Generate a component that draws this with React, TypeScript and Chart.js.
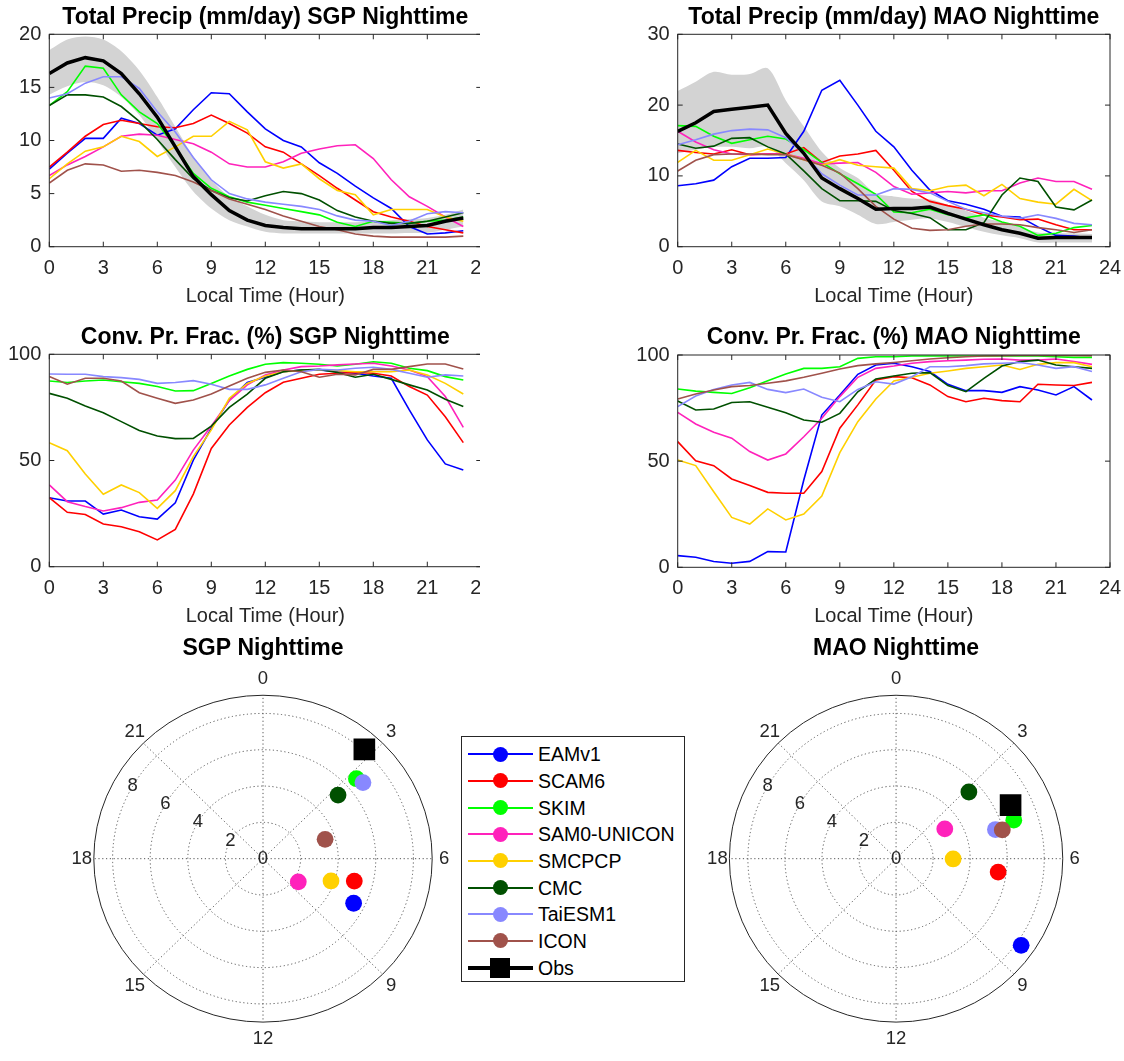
import React, { useEffect, useRef } from 'react';
import { Chart, registerables } from 'chart.js';

Chart.register(...registerables);

const FONT = '"Liberation Sans", Arial, Helvetica, sans-serif';

// ---------- categories / ticks ----------
const HOURS = [0, 1, 2, 3, 4, 5, 6, 7, 8, 9, 10, 11, 12, 13, 14, 15, 16, 17, 18, 19, 20, 21, 22, 23];
const X_TICKS = [0, 3, 6, 9, 12, 15, 18, 21, 24];
const MODEL_NAMES = ['EAMv1', 'SCAM6', 'SKIM', 'SAM0-UNICON', 'SMCPCP', 'CMC', 'TaiESM1', 'ICON'];
const MODEL_COLORS = ['#0000FF', '#FF0000', '#00FF00', '#FF22BB', '#FFD000', '#005000', '#8888FF', '#A0524B'];
const OBS_COLOR = '#000000';
const BAND_COLOR = '#d3d3d3';

// ---------- Total precip SGP (mm/day) ----------
const SGP_PR_EAMV1 = [7.3, 8.8, 10.2, 10.2, 12.1, 11.6, 10.5, 11.1, 12.9, 14.5, 14.4, 12.7, 11.1, 10.0, 9.4, 7.9, 6.9, 5.7, 4.6, 3.6, 1.9, 1.2, 1.3, 1.5];
const SGP_PR_SCAM6 = [7.5, 8.9, 10.4, 11.5, 11.9, 11.6, 11.3, 11.2, 11.6, 12.4, 11.6, 10.7, 9.4, 8.9, 7.8, 6.7, 5.5, 4.4, 3.3, 2.8, 2.4, 1.9, 1.6, 1.3];
const SGP_PR_SKIM = [13.3, 14.6, 17.0, 16.8, 14.3, 12.7, 11.6, 9.4, 6.9, 5.5, 4.7, 4.2, 3.9, 3.6, 3.3, 3.0, 2.3, 1.9, 2.4, 2.3, 2.2, 2.4, 2.5, 2.8];
const SGP_PR_SAM0 = [6.7, 7.7, 8.5, 9.4, 10.4, 10.6, 10.5, 10.1, 9.7, 8.9, 7.8, 7.5, 7.5, 8.0, 8.8, 9.2, 9.5, 9.6, 8.3, 6.3, 4.7, 3.8, 2.8, 1.9];
const SGP_PR_SMCPCP = [6.4, 7.8, 9.0, 9.4, 10.4, 9.9, 8.5, 9.4, 10.4, 10.4, 11.8, 11.0, 8.0, 7.4, 7.8, 6.4, 5.3, 4.9, 3.0, 3.5, 3.5, 3.5, 2.8, 2.4];
const SGP_PR_CMC = [13.3, 14.3, 14.3, 14.1, 13.2, 11.8, 10.1, 8.2, 6.4, 5.3, 4.6, 4.3, 4.8, 5.2, 5.0, 4.4, 3.4, 2.8, 2.4, 2.2, 2.2, 2.4, 2.8, 3.2];
const SGP_PR_TAI = [14.0, 14.4, 15.4, 16.0, 16.0, 14.9, 12.7, 10.8, 8.4, 6.3, 5.0, 4.5, 4.2, 4.0, 3.8, 3.5, 2.9, 2.5, 2.4, 2.0, 2.4, 3.1, 3.3, 3.2];
const SGP_PR_ICON = [6.0, 7.2, 7.8, 7.7, 7.1, 7.2, 7.0, 6.7, 6.1, 5.3, 4.5, 4.0, 3.5, 2.9, 2.4, 1.9, 1.6, 1.2, 1.0, 0.9, 0.9, 0.9, 0.9, 1.0];
const SGP_PR_OBS = [16.3, 17.3, 17.8, 17.5, 16.3, 14.4, 12.2, 9.4, 6.6, 4.9, 3.4, 2.5, 2.0, 1.8, 1.7, 1.7, 1.7, 1.7, 1.8, 1.8, 1.9, 2.0, 2.4, 2.7];
const SGP_PR_OBS_HI = [18.5, 19.5, 19.8, 19.5, 18.4, 16.6, 14.1, 11.3, 8.5, 6.3, 4.7, 3.8, 3.0, 2.5, 2.4, 2.3, 2.3, 2.3, 2.4, 2.5, 2.6, 2.7, 3.0, 3.5];
const SGP_PR_OBS_LO = [14.3, 15.1, 15.5, 15.2, 14.1, 12.4, 10.0, 7.5, 5.2, 3.6, 2.5, 1.9, 1.4, 1.25, 1.25, 1.25, 1.25, 1.25, 1.25, 1.25, 1.3, 1.3, 1.6, 1.9];

// ---------- Total precip MAO (mm/day) ----------
const MAO_PR_EAMV1 = [8.6, 8.9, 9.4, 11.3, 12.5, 12.5, 12.6, 16.3, 22.1, 23.5, 20.0, 16.3, 14.1, 10.8, 8.0, 6.5, 6.0, 5.3, 4.3, 4.2, 2.8, 1.6, 1.5, 1.2];
const MAO_PR_SCAM6 = [13.6, 13.3, 13.1, 13.7, 13.0, 13.1, 13.1, 14.0, 11.9, 12.8, 13.1, 13.6, 10.8, 7.8, 6.4, 5.8, 5.3, 4.5, 4.2, 3.8, 3.9, 3.1, 2.4, 2.4];
const MAO_PR_SKIM = [17.1, 17.0, 15.6, 14.6, 15.1, 15.6, 15.2, 13.7, 11.9, 10.3, 8.9, 7.4, 4.9, 4.8, 5.3, 4.5, 4.1, 4.5, 3.5, 2.9, 1.6, 1.9, 2.7, 3.0];
const MAO_PR_SAM0 = [16.3, 14.8, 13.7, 13.1, 13.0, 13.1, 13.1, 12.5, 11.7, 11.8, 11.9, 10.5, 8.5, 7.4, 7.6, 7.8, 7.6, 7.9, 7.9, 9.0, 9.7, 9.2, 9.2, 8.1];
const MAO_PR_SMCPCP = [11.9, 13.6, 12.2, 12.2, 13.0, 13.8, 13.1, 12.3, 11.5, 12.3, 11.5, 11.3, 11.1, 8.2, 7.9, 8.5, 8.7, 7.2, 8.8, 6.8, 6.3, 6.0, 8.1, 6.5];
const MAO_PR_CMC = [14.5, 13.9, 14.2, 15.3, 15.4, 14.1, 13.1, 10.7, 8.2, 6.5, 6.5, 6.4, 5.1, 4.7, 4.1, 2.4, 2.4, 3.4, 7.3, 9.7, 9.2, 5.6, 5.2, 6.6];
const MAO_PR_TAI = [14.4, 15.1, 15.9, 16.4, 16.6, 16.5, 15.4, 13.1, 10.3, 8.7, 7.3, 7.3, 8.2, 8.1, 7.6, 6.4, 5.3, 4.8, 4.3, 4.0, 4.5, 4.0, 3.3, 3.1];
const MAO_PR_ICON = [10.7, 12.2, 13.0, 13.1, 13.1, 13.0, 13.0, 12.3, 11.5, 10.4, 8.2, 5.7, 3.9, 2.6, 2.3, 2.4, 2.9, 3.2, 3.2, 3.1, 2.7, 2.4, 2.0, 2.4];
const MAO_PR_OBS = [16.3, 17.5, 19.1, 19.4, 19.7, 20.0, 16.0, 13.2, 9.7, 8.2, 6.8, 5.3, 5.4, 5.4, 5.6, 4.7, 3.9, 3.1, 2.4, 1.9, 1.2, 1.3, 1.3, 1.3];
const MAO_PR_OBS_HI = [22.0, 23.3, 24.7, 24.3, 24.4, 25.2, 20.7, 17.0, 13.4, 11.1, 9.7, 7.5, 7.1, 6.8, 6.7, 5.9, 5.1, 4.1, 3.5, 2.8, 2.0, 1.9, 1.9, 1.8];
const MAO_PR_OBS_LO = [13.2, 13.7, 14.1, 14.1, 13.9, 14.1, 11.8, 9.4, 6.4, 5.7, 4.5, 3.2, 3.5, 3.8, 4.0, 3.5, 2.8, 2.1, 1.6, 1.2, 0.6, 0.6, 0.6, 0.6];

// ---------- Convective precip fraction SGP (%) ----------
const SGP_CF_EAMV1 = [32.5, 30.9, 30.9, 24.8, 26.7, 23.5, 22.4, 30.1, 50.2, 65.1, 78.5, 86.7, 89.2, 91.8, 92.6, 92.6, 91.8, 91.1, 89.8, 88.7, 73.8, 59.7, 48.4, 45.5];
const SGP_CF_SCAM6 = [32.5, 25.6, 24.6, 20.1, 18.8, 16.5, 12.6, 17.6, 34.2, 55.7, 66.7, 75.0, 81.9, 86.8, 88.7, 90.6, 91.1, 91.4, 91.1, 89.8, 84.8, 80.8, 70.6, 58.4];
const SGP_CF_SKIM = [87.4, 86.7, 87.4, 87.9, 87.1, 86.3, 84.8, 82.7, 82.9, 86.3, 89.8, 92.9, 95.3, 96.1, 95.8, 95.3, 94.5, 95.3, 96.5, 95.8, 93.4, 92.3, 89.5, 87.9];
const SGP_CF_SAM0 = [38.5, 30.6, 28.3, 26.2, 27.8, 30.3, 31.4, 40.8, 54.9, 66.2, 78.2, 85.6, 90.3, 92.6, 94.2, 94.5, 95.0, 95.4, 95.8, 94.5, 92.6, 89.5, 80.1, 65.6];
const SGP_CF_SMCPCP = [58.4, 54.6, 43.6, 34.1, 38.5, 34.9, 27.5, 35.8, 51.8, 64.4, 79.3, 86.3, 89.8, 91.8, 92.3, 92.6, 92.3, 91.8, 91.8, 91.8, 92.6, 90.3, 86.3, 81.3];
const SGP_CF_CMC = [81.6, 79.3, 75.7, 72.5, 68.3, 64.1, 61.5, 60.3, 60.4, 66.2, 75.0, 81.3, 88.7, 91.8, 92.6, 92.9, 91.4, 89.2, 90.6, 88.2, 85.6, 83.2, 78.8, 75.4];
const SGP_CF_TAI = [90.7, 90.6, 90.6, 89.5, 89.0, 88.2, 86.3, 86.7, 87.6, 85.9, 83.5, 83.5, 85.6, 88.7, 91.8, 92.9, 92.6, 93.4, 93.9, 92.9, 91.1, 89.2, 90.3, 89.8];
const SGP_CF_ICON = [89.5, 85.9, 88.7, 88.7, 87.4, 81.9, 79.3, 76.9, 78.5, 81.3, 85.1, 88.7, 91.5, 92.6, 91.8, 89.2, 90.6, 90.3, 92.9, 92.9, 94.2, 95.4, 95.4, 93.1];

// ---------- Convective precip fraction MAO (%) ----------
const MAO_CF_EAMV1 = [5.5, 4.7, 2.7, 1.9, 2.8, 7.4, 7.2, 41.1, 71.7, 81.2, 90.9, 95.3, 96.1, 94.5, 92.2, 86.2, 83.2, 83.2, 82.4, 85.1, 83.5, 81.2, 85.1, 78.8];
const MAO_CF_SCAM6 = [59.2, 50.2, 47.9, 41.6, 38.5, 35.3, 34.9, 34.9, 45.1, 65.5, 76.5, 88.2, 89.8, 89.3, 85.9, 80.4, 78.0, 79.6, 78.5, 78.0, 86.2, 85.9, 85.6, 87.1];
const MAO_CF_SKIM = [84.0, 83.0, 82.4, 81.9, 84.6, 87.9, 91.1, 93.7, 93.7, 94.5, 98.4, 99.2, 99.2, 99.5, 99.5, 99.5, 99.5, 99.5, 99.5, 99.5, 99.5, 99.2, 98.9, 98.9];
const MAO_CF_SAM0 = [73.0, 67.5, 63.6, 60.8, 54.5, 50.5, 53.4, 61.5, 70.2, 80.4, 89.5, 93.7, 94.8, 96.1, 96.9, 97.3, 97.6, 98.0, 98.1, 97.6, 97.6, 98.1, 96.9, 95.6];
const MAO_CF_SMCPCP = [50.5, 47.9, 35.6, 23.5, 20.4, 27.5, 22.3, 25.1, 33.6, 54.0, 68.6, 79.3, 87.8, 89.5, 91.4, 92.5, 93.7, 94.5, 95.3, 93.2, 95.6, 96.4, 96.4, 94.5];
const MAO_CF_CMC = [78.3, 74.1, 74.6, 77.6, 78.0, 75.4, 72.8, 69.4, 68.3, 72.5, 82.7, 88.7, 90.1, 91.4, 91.7, 85.6, 82.7, 89.0, 94.8, 96.9, 97.6, 95.3, 94.5, 93.7];
const MAO_CF_TAI = [75.7, 80.7, 83.8, 85.9, 87.1, 83.8, 82.3, 84.0, 80.1, 78.0, 83.8, 87.4, 86.3, 89.8, 94.5, 94.5, 95.0, 95.8, 96.1, 96.5, 95.3, 93.7, 94.5, 92.2];
const MAO_CF_ICON = [79.3, 81.6, 83.5, 85.1, 85.6, 86.7, 87.8, 89.5, 91.4, 93.4, 95.0, 95.8, 96.5, 97.3, 98.1, 98.7, 99.2, 99.5, 99.7, 99.8, 99.8, 99.8, 99.8, 99.7];

// ---------- Diurnal harmonic (phase in local hour, amplitude in mm/day) ----------
const SGP_PHASE = [7.80, 6.95, 3.23, 8.28, 7.25, 3.25, 3.45, 4.81];
const SGP_AMP = [5.41, 5.01, 6.64, 2.27, 3.82, 5.31, 6.77, 3.47];
const SGP_OBS_PHASE = 2.79;
const SGP_OBS_AMP = 8.08;
const MAO_PHASE = [8.35, 6.51, 4.77, 3.87, 6.02, 3.13, 4.89, 4.97];
const MAO_AMP = [8.27, 5.56, 6.70, 3.10, 3.08, 5.38, 5.60, 5.95];
const MAO_OBS_PHASE = 4.30;
const MAO_OBS_AMP = 6.85;

const POLAR_RINGS = [2, 4, 6, 8];
const POLAR_RMAX = 9;
const POLAR_ANGLE_TICKS = [0, 3, 6, 9, 12, 15, 18, 21];
const POLAR_SPOKES = [0, 3, 6, 9, 12, 15, 18, 21];
const POLAR_R_LABEL_HOUR = 20;

type Area = { l: number; t: number; r: number; b: number };

type LinePanelProps = {
  left: number; top: number; wrapW: number; height: number; canvasW: number;
  area: Area; yMax: number; yStep: number; title: string; xLabel: string;
  series: number[][]; obs?: number[]; hi?: number[]; lo?: number[];
};

const Y_AXIS_W = 45;
const X_AXIS_H = 60;

function toXY(vals: number[]) {
  return HOURS.map((h, i) => ({ x: h, y: vals[i] }));
}

function LinePanel(p: LinePanelProps) {
  const ref = useRef<HTMLCanvasElement | null>(null);
  useEffect(() => {
    if (!ref.current) return;
    const datasets: any[] = [];
    if (p.obs) {
      datasets.push({
        label: 'Obs', data: toXY(p.obs), borderColor: OBS_COLOR, borderWidth: 3.5,
        pointRadius: 0, fill: false, order: 0, tension: 0,
      });
    }
    p.series.forEach((s, k) => {
      datasets.push({
        label: MODEL_NAMES[k], data: toXY(s), borderColor: MODEL_COLORS[k], borderWidth: 1.6,
        pointRadius: 0, fill: false, order: MODEL_NAMES.length - k, tension: 0,
      });
    });
    if (p.hi && p.lo) {
      datasets.push({
        label: 'obs-hi', data: toXY(p.hi), borderWidth: 0, borderColor: 'rgba(0,0,0,0)',
        backgroundColor: BAND_COLOR, pointRadius: 0, fill: '+1', order: 20, tension: 0.3,
      });
      datasets.push({
        label: 'obs-lo', data: toXY(p.lo), borderWidth: 0, borderColor: 'rgba(0,0,0,0)',
        pointRadius: 0, fill: false, order: 21, tension: 0.3,
      });
    }
    const deco = {
      id: 'deco',
      afterDraw(chart: any) {
        const { ctx, chartArea: a, scales } = chart;
        const xs = scales.x, ys = scales.y;
        ctx.save();
        ctx.strokeStyle = '#262626';
        ctx.lineWidth = 1;
        ctx.strokeRect(a.left, a.top, a.right - a.left, a.bottom - a.top);
        const tl = 5;
        ctx.beginPath();
        X_TICKS.forEach((v) => {
          const px = xs.getPixelForValue(v);
          ctx.moveTo(px, a.bottom); ctx.lineTo(px, a.bottom - tl);
          ctx.moveTo(px, a.top); ctx.lineTo(px, a.top + tl);
        });
        ys.ticks.forEach((t: any) => {
          const py = ys.getPixelForValue(t.value);
          ctx.moveTo(a.left, py); ctx.lineTo(a.left + tl, py);
          ctx.moveTo(a.right, py); ctx.lineTo(a.right - tl, py);
        });
        ctx.stroke();
        const cx = (a.left + a.right) / 2;
        ctx.fillStyle = '#000';
        ctx.textAlign = 'center';
        ctx.textBaseline = 'middle';
        ctx.font = `bold 23px ${FONT}`;
        ctx.fillText(p.title, cx, a.top - 17);
        ctx.fillStyle = '#262626';
        ctx.font = `20px ${FONT}`;
        ctx.fillText(p.xLabel, cx, a.bottom + 49.5);
        ctx.restore();
      },
    };
    const chart = new Chart(ref.current, {
      type: 'line',
      data: { datasets },
      options: {
        animation: false, responsive: false, events: [],
        layout: {
          padding: {
            left: p.area.l - Y_AXIS_W, top: p.area.t,
            right: p.canvasW - p.area.r, bottom: p.height - p.area.b - X_AXIS_H,
          },
        },
        plugins: { legend: { display: false }, tooltip: { enabled: false }, title: { display: false } },
        scales: {
          x: {
            type: 'linear', min: 0, max: 24,
            afterBuildTicks: (s: any) => { s.ticks = X_TICKS.map((v) => ({ value: v })); },
            ticks: { font: { family: FONT, size: 20 }, color: '#262626', padding: 9.5, maxRotation: 0, autoSkip: false },
            grid: { display: false, drawTicks: false }, border: { display: false },
            afterFit: (s: any) => { s.height = X_AXIS_H; },
          },
          y: {
            type: 'linear', min: 0, max: p.yMax,
            ticks: { stepSize: p.yStep, font: { family: FONT, size: 20 }, color: '#262626', padding: 8 },
            grid: { display: false, drawTicks: false }, border: { display: false },
            afterFit: (s: any) => { s.width = Y_AXIS_W; },
          },
        },
      } as any,
      plugins: [deco],
    });
    return () => chart.destroy();
  }, []);
  return (
    <div style={{ position: 'absolute', left: p.left, top: p.top, width: p.wrapW, height: p.height, overflow: 'hidden' }}>
      <canvas ref={ref} width={p.canvasW} height={p.height} style={{ display: 'block', width: p.canvasW, height: p.height }} />
    </div>
  );
}

type PolarProps = {
  left: number; top: number; width: number; height: number;
  center: { x: number; y: number }; title: string;
  phase: number[]; amp: number[]; obsPhase: number; obsAmp: number;
};

const UNIT_X = 18.8;
const UNIT_Y = 18.5;
const POLAR_RANGE = 10.3;

function polarXY(hour: number, r: number) {
  const a = (hour / 24) * 2 * Math.PI;
  return { x: r * Math.sin(a), y: r * Math.cos(a) };
}

function PolarPanel(p: PolarProps) {
  const ref = useRef<HTMLCanvasElement | null>(null);
  useEffect(() => {
    if (!ref.current) return;
    const halfW = POLAR_RANGE * UNIT_X;
    const halfH = POLAR_RANGE * UNIT_Y;
    const cxLocal = p.center.x - p.left;
    const cyLocal = p.center.y - p.top;
    const datasets: any[] = [];
    datasets.push({
      label: 'Obs', data: [polarXY(p.obsPhase, p.obsAmp)], pointStyle: 'rect', pointRadius: 15.3,
      backgroundColor: OBS_COLOR, borderWidth: 0, order: 0,
    });
    p.phase.forEach((ph, k) => {
      datasets.push({
        label: MODEL_NAMES[k], data: [polarXY(ph, p.amp[k])], pointStyle: 'circle', pointRadius: 8.4,
        backgroundColor: MODEL_COLORS[k], borderWidth: 0, order: MODEL_NAMES.length - k,
      });
    });
    const deco = {
      id: 'polarDeco',
      beforeDatasetsDraw(chart: any) {
        const { ctx, scales } = chart;
        const xs = scales.x, ys = scales.y;
        const cx = xs.getPixelForValue(0), cy = ys.getPixelForValue(0);
        const ux = xs.getPixelForValue(1) - cx;
        const uy = cy - ys.getPixelForValue(1);
        ctx.save();
        ctx.strokeStyle = '#555';
        ctx.lineWidth = 1;
        ctx.setLineDash([1.2, 2.6]);
        POLAR_RINGS.forEach((r) => {
          ctx.beginPath();
          ctx.ellipse(cx, cy, r * ux, r * uy, 0, 0, 2 * Math.PI);
          ctx.stroke();
        });
        POLAR_SPOKES.forEach((h) => {
          const pt = polarXY(h, POLAR_RMAX);
          ctx.beginPath();
          ctx.moveTo(cx, cy);
          ctx.lineTo(cx + pt.x * ux, cy - pt.y * uy);
          ctx.stroke();
        });
        ctx.setLineDash([]);
        ctx.strokeStyle = '#262626';
        ctx.beginPath();
        ctx.ellipse(cx, cy, POLAR_RMAX * ux, POLAR_RMAX * uy, 0, 0, 2 * Math.PI);
        ctx.stroke();
        ctx.fillStyle = '#262626';
        ctx.textAlign = 'center';
        ctx.textBaseline = 'middle';
        ctx.font = `18.5px ${FONT}`;
        POLAR_ANGLE_TICKS.forEach((h) => {
          const a = (h / 24) * 2 * Math.PI;
          const lx = cx + (POLAR_RMAX * ux + 12) * Math.sin(a);
          const ly = cy - (POLAR_RMAX * uy + 16.5) * Math.cos(a);
          ctx.fillText(String(h), lx, ly);
        });
        [0, ...POLAR_RINGS].forEach((r) => {
          const pt = polarXY(POLAR_R_LABEL_HOUR, r);
          ctx.fillText(String(r), cx + pt.x * ux, cy - pt.y * uy);
        });
        ctx.fillStyle = '#000';
        ctx.font = `bold 23px ${FONT}`;
        ctx.fillText(p.title, cx, 649 - p.top);
        ctx.restore();
      },
    };
    const chart = new Chart(ref.current, {
      type: 'scatter',
      data: { datasets },
      options: {
        animation: false, responsive: false, events: [],
        layout: {
          padding: {
            left: cxLocal - halfW, right: p.width - (cxLocal + halfW),
            top: cyLocal - halfH, bottom: p.height - (cyLocal + halfH),
          },
        },
        plugins: { legend: { display: false }, tooltip: { enabled: false } },
        scales: {
          x: { type: 'linear', min: -POLAR_RANGE, max: POLAR_RANGE, display: false },
          y: { type: 'linear', min: -POLAR_RANGE, max: POLAR_RANGE, display: false },
        },
      } as any,
      plugins: [deco],
    });
    return () => chart.destroy();
  }, []);
  return (
    <div style={{ position: 'absolute', left: p.left, top: p.top, width: p.width, height: p.height }}>
      <canvas ref={ref} width={p.width} height={p.height} style={{ display: 'block', width: p.width, height: p.height }} />
    </div>
  );
}

function Legend() {
  const rowTop0 = 17.3;
  const rowStep = 26.67;
  const items = [
    ...MODEL_NAMES.map((n, k) => ({ name: n, color: MODEL_COLORS[k], obs: false })),
    { name: 'Obs', color: OBS_COLOR, obs: true },
  ];
  return (
    <div style={{
      position: 'absolute', left: 461, top: 736, width: 224, height: 246,
      border: '1px solid #262626', boxSizing: 'border-box', background: '#fff', fontFamily: FONT,
    }}>
      {items.map((it, i) => {
        const cy = rowTop0 + rowStep * i;
        return (
          <React.Fragment key={it.name}>
            <div style={{
              position: 'absolute', left: 6, top: cy - (it.obs ? 2 : 1), width: 65, height: it.obs ? 4 : 2, background: it.color,
            }} />
            <div style={{
              position: 'absolute', left: 38 - (it.obs ? 10 : 7.5), top: cy - (it.obs ? 10 : 7.5),
              width: it.obs ? 20 : 15, height: it.obs ? 20 : 15,
              borderRadius: it.obs ? 0 : '50%', background: it.color,
            }} />
            <div style={{
              position: 'absolute', left: 76, top: cy - 12, height: 24, lineHeight: '24px',
              fontSize: 19.5, color: '#000', whiteSpace: 'nowrap',
            }}>{it.name}</div>
          </React.Fragment>
        );
      })}
    </div>
  );
}

export default function App() {
  useEffect(() => {
    document.body.style.margin = '0';
  }, []);
  return (
    <div style={{ position: 'absolute', left: 0, top: 0, width: 1124, height: 1061, background: '#fff', overflow: 'hidden' }}>
      <LinePanel left={0} top={0} wrapW={480} height={320} canvasW={515}
        area={{ l: 49.3, t: 34.3, r: 481.3, b: 246.7 }} yMax={20} yStep={5}
        title="Total Precip (mm/day) SGP Nighttime" xLabel="Local Time (Hour)"
        series={[SGP_PR_EAMV1, SGP_PR_SCAM6, SGP_PR_SKIM, SGP_PR_SAM0, SGP_PR_SMCPCP, SGP_PR_CMC, SGP_PR_TAI, SGP_PR_ICON]}
        obs={SGP_PR_OBS} hi={SGP_PR_OBS_HI} lo={SGP_PR_OBS_LO} />
      <LinePanel left={630} top={0} wrapW={494} height={320} canvasW={515}
        area={{ l: 47.7, t: 34.3, r: 480, b: 246.7 }} yMax={30} yStep={10}
        title="Total Precip (mm/day) MAO Nighttime" xLabel="Local Time (Hour)"
        series={[MAO_PR_EAMV1, MAO_PR_SCAM6, MAO_PR_SKIM, MAO_PR_SAM0, MAO_PR_SMCPCP, MAO_PR_CMC, MAO_PR_TAI, MAO_PR_ICON]}
        obs={MAO_PR_OBS} hi={MAO_PR_OBS_HI} lo={MAO_PR_OBS_LO} />
      <LinePanel left={0} top={320} wrapW={480} height={310} canvasW={515}
        area={{ l: 49.3, t: 34.3, r: 481.3, b: 246.7 }} yMax={100} yStep={50}
        title="Conv. Pr. Frac. (%) SGP Nighttime" xLabel="Local Time (Hour)"
        series={[SGP_CF_EAMV1, SGP_CF_SCAM6, SGP_CF_SKIM, SGP_CF_SAM0, SGP_CF_SMCPCP, SGP_CF_CMC, SGP_CF_TAI, SGP_CF_ICON]} />
      <LinePanel left={630} top={320} wrapW={494} height={310} canvasW={515}
        area={{ l: 47.7, t: 35, r: 480, b: 247.3 }} yMax={100} yStep={50}
        title="Conv. Pr. Frac. (%) MAO Nighttime" xLabel="Local Time (Hour)"
        series={[MAO_CF_EAMV1, MAO_CF_SCAM6, MAO_CF_SKIM, MAO_CF_SAM0, MAO_CF_SMCPCP, MAO_CF_CMC, MAO_CF_TAI, MAO_CF_ICON]} />
      <PolarPanel left={40} top={630} width={440} height={431} center={{ x: 263, y: 862.2 }}
        title="SGP Nighttime" phase={SGP_PHASE} amp={SGP_AMP} obsPhase={SGP_OBS_PHASE} obsAmp={SGP_OBS_AMP} />
      <PolarPanel left={690} top={630} width={434} height={431} center={{ x: 893.2, y: 862.2 }}
        title="MAO Nighttime" phase={MAO_PHASE} amp={MAO_AMP} obsPhase={MAO_OBS_PHASE} obsAmp={MAO_OBS_AMP} />
      <Legend />
    </div>
  );
}
